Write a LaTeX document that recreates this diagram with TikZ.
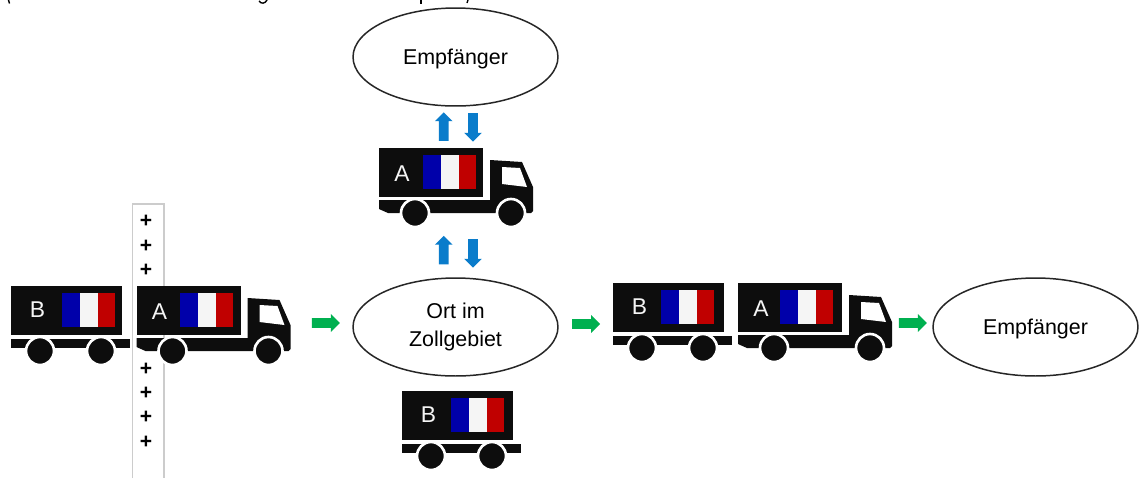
\documentclass[tikz,border=0pt]{standalone}
\usepackage{fontspec}
\setmainfont{Liberation Sans}
\usepackage{xcolor}
\usetikzlibrary{shapes, shapes.arrows, positioning}
\definecolor{flagblue}{HTML}{0000AA}
\definecolor{flagwhite}{HTML}{F5F5F5}
\definecolor{flagred}{HTML}{C00000}
\definecolor{truckblack}{HTML}{0D0D0D}
\definecolor{arrowgreen}{HTML}{00B050}
\definecolor{arrowblue}{HTML}{0A7CCB}
\definecolor{stripgray}{HTML}{CCCCCC}

\begin{document}
\begin{tikzpicture}[x=0.02cm, y=-0.02cm, node distance=0.3cm, font=\fontsize{12.2}{15}\selectfont]
    % Define styles
    \tikzstyle{place} = [draw=black!85, line width=0.85pt, ellipse, minimum width=4.1cm, minimum height=1.96cm, inner sep=0pt, align=center, fill=white, text depth=0pt]
    \tikzstyle{greenarrow} = [single arrow, fill=arrowgreen, minimum height=0.56cm, minimum width=0.34cm, inner sep=0.09cm, single arrow head extend=0.08cm]
    \tikzstyle{uparrow} = [single arrow, shape border rotate=90, fill=arrowblue, minimum height=0.57cm, minimum width=0.33cm, inner sep=0.09cm, single arrow head extend=0.08cm]
    \tikzstyle{downarrow} = [single arrow, shape border rotate=270, fill=arrowblue, minimum height=0.57cm, minimum width=0.33cm, inner sep=0.09cm, single arrow head extend=0.08cm]
    \tikzstyle{wheel} = [fill=truckblack, draw=white, line width=1.5pt]
    \tikzstyle{boxlabel} = [text=flagwhite, inner sep=0pt, font=\fontsize{13}{15}\selectfont]
    \tikzstyle{crossmark} = [inner sep=0pt, font=\fontsize{12}{15}\selectfont\bfseries]
    \tikzstyle{cutoff} = [line width=0.8pt, black]

    % Flag with its top left corner at the given point
    \tikzset{
        flag/.pic={
            \fill[flagblue] (0,0) rectangle (18,34);
            \fill[flagwhite] (18,0) rectangle (36,34);
            \fill[flagred] (36,0) rectangle (53,34);
        },
        lorry/.pic={
            \fill[truckblack] (0,0) rectangle (104,49);
            \path (#1,7) pic {flag};
            \node (-label) [boxlabel] at (23,26) {A};
            \fill[truckblack] (111,12) -- (143,14) -- (154,39) -- (154,63) -- (152,65) -- (111,65) -- (111,52) -- (0,52) -- (0,61) -- (9,65) -- (111,65) -- cycle;
            \fill[white] (123,19) -- (141,20) -- (148,39) -- (123,36) -- cycle;
            \draw[wheel] (36,65) circle (14);
            \draw[wheel] (132,65) circle (14);
        },
        trailer/.pic={
            \fill[truckblack] (0,0) rectangle (111,49);
            \path (#1,7) pic {flag};
            \node (-label) [boxlabel] at (26.5,24) {B};
            \fill[truckblack] (0,53) rectangle (119,62);
            \draw[wheel] (29,65) circle (14);
            \draw[wheel] (90,65) circle (14);
        }
    }

    \useasboundingbox (0,0) rectangle (1143,478);

    % Text line cut off at the top edge
    \draw[cutoff] (8.5,0) -- (9.5,3.5);
    \draw[cutoff] (259,1) .. controls (261,4) and (265,4) .. (267,0);
    \draw[cutoff] (421,0) -- (421,4);
    \draw[cutoff] (468,0) -- (467,3);

    % BORDER
    \fill[white] (132.5,204) rectangle (164,478);
    \draw[stripgray, line width=0.7pt] (132.5,478) -- (132.5,204) -- (164,204) -- (164,478);
    \foreach \y/\n in {220/1, 245/2, 269/3, 344/4, 368/5, 392/6, 416/7, 441/8} {
        \node (cross\n) [crossmark] at (146,\y+1.5) {+};
    }

    % PLACES
    \node (recv_top) [place] at (455.5,57) {Empfänger};
    \node (ort) [place, text depth=2.4pt] at (455.5,327) {Ort im\\[1.3pt]Zollgebiet};
    \node (recv_right) [place] at (1035.5,327) {Empfänger};

    % VEHICLES
    \path (379,148) pic (lorry_top) {lorry=43.5};
    \path (136.5,286) pic (lorry_left) {lorry=43.5};
    \path (738,283) pic (lorry_right) {lorry=42};
    \path (11,286) pic (trailer_left) {trailer=50.5};
    \path (402,391) pic (trailer_bottom) {trailer=49};
    \path (613,283) pic (trailer_right) {trailer=48};

    % ARROWS
    \node (go_left) [greenarrow, left=0.24cm of ort, yshift=0.08cm] {};
    \node (go_mid) [greenarrow, right=0.26cm of ort, yshift=0.06cm] {};
    \node (go_right) [greenarrow, left=0.1cm of recv_right, yshift=0.08cm] {};

    \node (up_top) [uparrow] at (443.7,129) {};
    \node (down_top) [downarrow] at (473,125) {};
    \node (up_low) [uparrow] at (443.7,252.5) {};
    \node (down_low) [downarrow] at (473,251) {};
\end{tikzpicture}
\end{document}
